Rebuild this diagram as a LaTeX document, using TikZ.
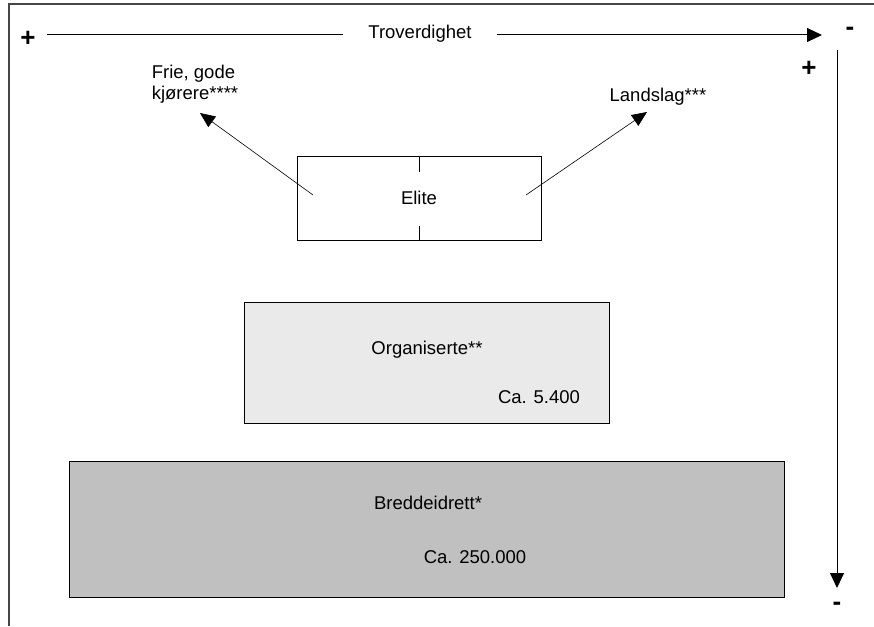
\documentclass[tikz,border=0pt]{standalone}
\usepackage{fontspec}
\setmainfont{Liberation Sans}
\usepackage{tikz}
\usetikzlibrary{shapes,arrows.meta}
\definecolor{lightgrey}{RGB}{234,234,234}
\definecolor{midgrey}{RGB}{192,192,192}
\definecolor{framegrey}{RGB}{70,70,70}
\tikzstyle{block} = [draw, rectangle, line width=1pt, inner sep=0pt]
\tikzstyle{txt} = [inner sep=0pt, font=\fontsize{18.5}{21}\selectfont]
\tikzstyle{sign} = [inner sep=0pt, font=\fontsize{26}{28}\selectfont\bfseries]
\tikzstyle{bigarrow} = [-{Triangle[length=15pt,width=14pt]}, line width=1pt]
\tikzstyle{thinarrow} = [-{Triangle[length=15pt,width=13pt]}, line width=0.6pt]
\tikzstyle{frame} = [draw=framegrey, line width=1.3pt]

\begin{document}
\begin{tikzpicture}[x=1pt, y=-1pt, auto]
	\useasboundingbox (0,0) rectangle (874,626);

	% frame
	\coordinate (fbl) at (9,626);
	\coordinate (ftl) at (9,4);
	\coordinate (ftr) at (874,4);
	\draw [frame] (fbl) -- (ftl) -- (ftr);

	% trustworthiness axis
	\node [sign] (hplus) at (28,39) {+};
	\node [sign] (hminus) at (850,31) {-};
	\node [txt, fill=white, inner xsep=25pt] (trov) at (420,34) {Troverdighet};
	\coordinate (hstart) at (47,35);
	\coordinate (hend) at (822,35);
	\draw [line width=1pt] (hstart) -- (trov.west |- hstart);
	\draw [bigarrow] (trov.east |- hend) -- (hend);

	% vertical axis
	\node [sign] (vplus) at (809,69) {+};
	\node [sign] (vminus) at (837,606) {-};
	\coordinate (vstart) at (837,50);
	\coordinate (vend) at (837,588);
	\draw [bigarrow] (vstart) -- (vend);

	% boxes
	\node [block, txt, minimum width=244pt, minimum height=84pt] (elite) at (419,198) {Elite};
	\draw (elite.north) -- ++(0,16);
	\draw (elite.south) -- ++(0,-15);

	\node [block, fill=lightgrey, minimum width=365pt, minimum height=121pt] (org) at (426.5,362.5) {};
	\node [txt] (orgname) at (427,350) {Organiserte**};
	\node [txt] (orgnum) at (539,397) {Ca. 5.400};

	\node [block, fill=midgrey, minimum width=715pt, minimum height=136pt] (bredde) at (426.5,529) {};
	\node [txt] (breddename) at (428,503) {Breddeidrett*};
	\node [txt] (breddenum) at (475,557) {Ca. 250.000};

	% groups above the elite
	\node [txt, align=left] (frie) at (195,84) {Frie, gode\\kjørere****};
	\node [txt] (landslag) at (658,97) {Landslag***};
	\coordinate (eliteleft) at (313,195);
	\coordinate (eliteright) at (526,195);
	\coordinate (frietip) at (200,113);
	\coordinate (landstip) at (647,112);
	\draw [thinarrow] (eliteleft) -- (frietip);
	\draw [thinarrow] (eliteright) -- (landstip);

\end{tikzpicture}
\end{document}
